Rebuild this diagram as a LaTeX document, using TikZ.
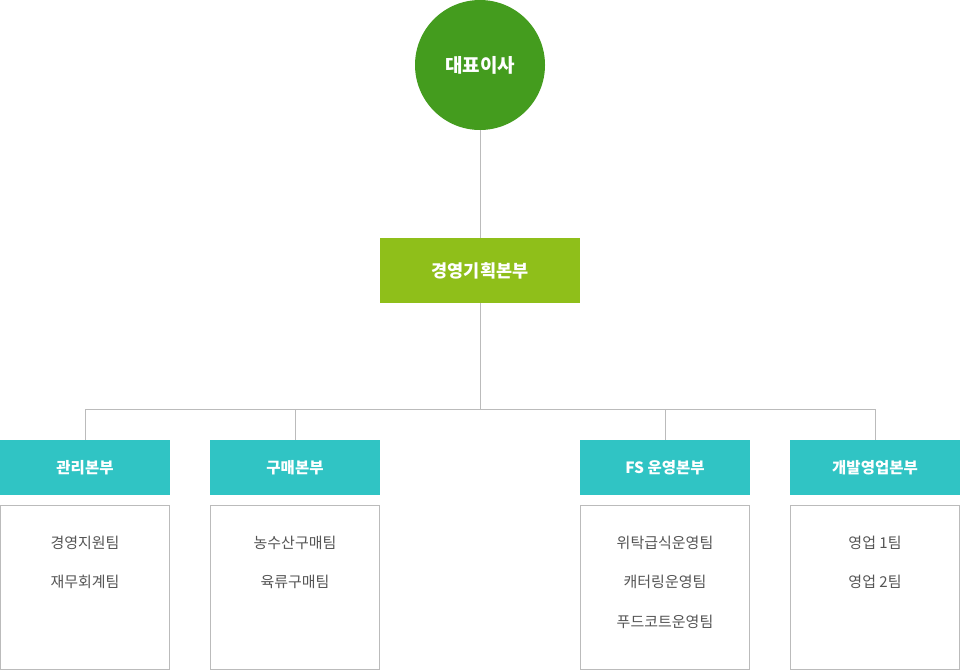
\documentclass[tikz,border=0pt]{standalone}
\usepackage{fontspec}
\setmainfont{Noto Sans CJK KR}
\begin{document}
\begin{tikzpicture}[x=1pt,y=-1pt,
  conn/.style={draw=linegray,line width=1pt},
  head/.style={fill=teal1,text=white,minimum width=170pt,minimum height=55pt,inner sep=0pt,font=\fontsize{15.5}{17}\selectfont\bfseries},
  teambox/.style={draw=boxgray,line width=1pt,fill=white,minimum width=169pt,minimum height=164pt,inner sep=0pt},
  team/.style={text=textgray,font=\fontsize{15}{17}\selectfont,inner sep=0pt}]
\definecolor{ceogreen}{HTML}{449C1E}
\definecolor{plangreen}{HTML}{8FBF1A}
\definecolor{teal1}{HTML}{30C4C4}
\definecolor{linegray}{HTML}{BBBBBB}
\definecolor{boxgray}{HTML}{BBBBBB}
\definecolor{textgray}{HTML}{555555}
\useasboundingbox[fill=white] (0,0) rectangle (960,670);
\node[circle,fill=ceogreen,minimum size=130pt,inner sep=0pt,text=white,font=\fontsize{19}{21}\selectfont\bfseries] (ceo) at (480,65) {대표이사};
\node[fill=plangreen,minimum width=200pt,minimum height=65pt,inner sep=0pt,text=white,font=\fontsize{17.5}{19}\selectfont\bfseries] (plan) at (480,270.5) {경영기획본부};
\coordinate (bus) at (480,409.5);
\node[head] (h1) at (85,467.5) {관리본부};
\node[head] (h2) at (295,467.5) {구매본부};
\node[head] (h3) at (665,467.5) {FS 운영본부};
\node[head] (h4) at (875,467.5) {개발영업본부};
\node[teambox] (b1) at (85,587.5) {};
\node[teambox] (b2) at (295,587.5) {};
\node[teambox] (b3) at (665,587.5) {};
\node[teambox] (b4) at (875,587.5) {};
\draw[conn] (ceo.south) -- (plan.north);
\draw[conn] (plan.south) -- (bus);
\draw[conn] (h1.north) |- (bus);
\draw[conn] (h2.north) |- (bus);
\draw[conn] (h3.north) |- (bus);
\draw[conn] (h4.north) |- (bus);
\node[team] (t11) at (85,543) {경영지원팀};
\node[team] (t12) at (85,582) {재무회계팀};
\node[team] (t21) at (295,543) {농수산구매팀};
\node[team] (t22) at (295,582) {육류구매팀};
\node[team] (t31) at (665,543) {위탁급식운영팀};
\node[team] (t32) at (665,582) {캐터링운영팀};
\node[team] (t33) at (665,622) {푸드코트운영팀};
\node[team] (t41) at (875,543) {영업 1팀};
\node[team] (t42) at (875,582) {영업 2팀};
\end{tikzpicture}
\end{document}
